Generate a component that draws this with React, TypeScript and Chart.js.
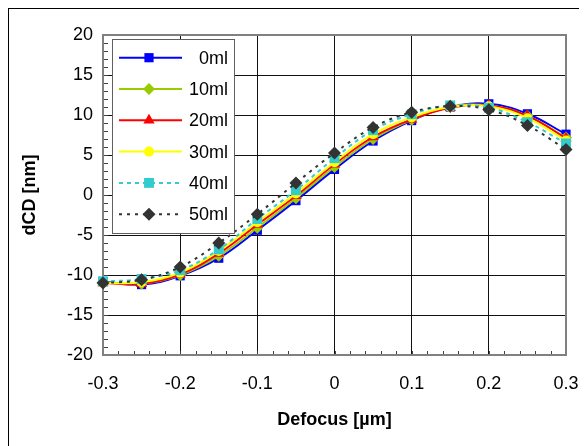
import React, { useEffect, useRef } from 'react';
import { Chart, registerables } from 'chart.js';

Chart.register(...registerables);

const defocus = [-0.3, -0.25, -0.2, -0.15, -0.1, -0.05, 0, 0.05, 0.1, 0.15, 0.2, 0.25, 0.3];
const series0ml = [-10.8, -11.2, -10.1, -7.9, -4.4, -0.7, 3.2, 6.75, 9.3, 11.0, 11.4, 10.15, 7.6];
const series10ml = [-10.9, -11.1, -10.0, -7.6, -4.1, -0.4, 3.5, 7.0, 9.4, 11.0, 11.2, 9.9, 7.2];
const series20ml = [-11.0, -11.1, -9.9, -7.3, -3.7, -0.1, 3.85, 7.25, 9.45, 10.9, 11.2, 9.9, 7.1];
const series30ml = [-11.0, -10.9, -9.7, -7.0, -3.4, 0.2, 4.1, 7.6, 9.7, 11.0, 11.1, 9.6, 6.8];
const series40ml = [-10.8, -10.5, -9.4, -6.8, -3.0, 0.6, 4.6, 8.1, 10.1, 11.2, 10.9, 9.1, 6.45];
const series50ml = [-11.0, -10.6, -9.0, -6.0, -2.4, 1.5, 5.25, 8.45, 10.35, 11.1, 10.65, 8.7, 5.7];
const seriesNames = ['0ml', '10ml', '20ml', '30ml', '40ml', '50ml'];
const xTickValues = [-0.3, -0.2, -0.1, 0, 0.1, 0.2, 0.3];
const yTickValues = [-20, -15, -10, -5, 0, 5, 10, 15, 20];
const xTitle = 'Defocus [µm]';
const yTitle = 'dCD [nm]';

const allSeries = [series0ml, series10ml, series20ml, series30ml, series40ml, series50ml];
const styles = [
  { color: '#0000FF', point: 'rect', r: 6.5, dash: [] as number[] },
  { color: '#99CC00', point: 'rectRot', r: 6, dash: [] as number[] },
  { color: '#FF0000', point: 'triangle', r: 6.5, dash: [] as number[] },
  { color: '#FFFF00', point: 'circle', r: 5, dash: [] as number[] },
  { color: '#33CCCC', point: 'rect', r: 7, dash: [4, 4] },
  { color: '#333333', point: 'rectRot', r: 6.5, dash: [3, 5] },
];

const FONT = 'Arial, "Liberation Sans", sans-serif';

function drawMarker(ctx: CanvasRenderingContext2D, style: string, x: number, y: number, r: number, color: string) {
  ctx.fillStyle = color;
  ctx.beginPath();
  if (style === 'rect') {
    const s = r * Math.SQRT1_2;
    ctx.rect(x - s, y - s, 2 * s, 2 * s);
  } else if (style === 'rectRot') {
    ctx.moveTo(x, y - r);
    ctx.lineTo(x + r, y);
    ctx.lineTo(x, y + r);
    ctx.lineTo(x - r, y);
    ctx.closePath();
  } else if (style === 'triangle') {
    ctx.moveTo(x, y - r);
    ctx.lineTo(x + r * 0.866, y + r * 0.5);
    ctx.lineTo(x - r * 0.866, y + r * 0.5);
    ctx.closePath();
  } else {
    ctx.arc(x, y, r, 0, Math.PI * 2);
  }
  ctx.fill();
}

const decorPlugin = {
  id: 'decor',
  beforeDatasetsDraw(chart: any) {
    const { ctx, chartArea: a, scales } = chart;
    ctx.save();
    ctx.strokeStyle = '#404040';
    ctx.lineWidth = 1;
    ctx.beginPath();
    for (let v = -20; v <= 20; v += 1) {
      const y = Math.round(scales.y.getPixelForValue(v)) + 0.5;
      ctx.moveTo(a.left, y);
      ctx.lineTo(a.left + 5, y);
    }
    for (let i = 0; i <= 30; i++) {
      const v = -0.3 + i * 0.02;
      const x = Math.round(scales.x.getPixelForValue(v)) + 0.5;
      ctx.moveTo(x, a.bottom);
      ctx.lineTo(x, a.bottom - 4);
    }
    ctx.stroke();
    ctx.strokeStyle = '#808080';
    ctx.lineWidth = 2;
    ctx.strokeRect(a.left, a.top, a.right - a.left, a.bottom - a.top);
    ctx.restore();
  },
  afterDatasetsDraw(chart: any) {
    const { ctx } = chart;
    ctx.save();
    const bx = 103, by = 30, bw = 122, bh = 194;
    ctx.fillStyle = '#ffffff';
    ctx.fillRect(bx, by, bw, bh);
    ctx.strokeStyle = '#606060';
    ctx.lineWidth = 1;
    ctx.strokeRect(bx + 0.5, by + 0.5, bw, bh);
    seriesNames.forEach((name, i) => {
      const st = styles[i];
      const y = 48.7 + i * 31.3;
      ctx.strokeStyle = st.color;
      ctx.lineWidth = 2;
      ctx.setLineDash(st.dash);
      ctx.beginPath();
      ctx.moveTo(110, y);
      ctx.lineTo(173, y);
      ctx.stroke();
      ctx.setLineDash([]);
      drawMarker(ctx, st.point, 140, y, st.r, st.color);
      ctx.fillStyle = '#000';
      ctx.font = `18px ${FONT}`;
      ctx.textAlign = 'right';
      ctx.textBaseline = 'middle';
      ctx.fillText(name, 219, y + 1);
    });
    ctx.restore();
  },
};

function fmt(v: number) {
  const n = Number(v.toFixed(2));
  return String(n);
}

export default function App() {
  const ref = useRef<HTMLCanvasElement | null>(null);
  useEffect(() => {
    if (!ref.current) return;
    const datasets = allSeries.map((vals, i) => ({
      label: seriesNames[i],
      data: defocus.map((x, j) => ({ x, y: vals[j] })),
      showLine: true,
      borderColor: styles[i].color,
      backgroundColor: styles[i].color,
      pointBackgroundColor: styles[i].color,
      pointBorderColor: styles[i].color,
      pointBorderWidth: 0,
      pointStyle: styles[i].point,
      pointRadius: styles[i].r,
      borderWidth: 2,
      borderDash: styles[i].dash,
      tension: 0.4,
      clip: false,
      order: 6 - i,
    }));
    const gridColor = (c: any) => {
      const v = c.tick ? c.tick.value : null;
      const sc = c.scale;
      if (v === sc.min || v === sc.max) return 'rgba(0,0,0,0)';
      return '#111';
    };
    const chart = new Chart(ref.current, {
      type: 'scatter',
      data: { datasets: datasets as any },
      plugins: [decorPlugin as any],
      options: {
        animation: false,
        responsive: false,
        layout: { padding: { left: 0, top: 26, right: 21, bottom: 0 } },
        plugins: { legend: { display: false }, tooltip: { enabled: false } },
        scales: {
          x: {
            type: 'linear',
            min: -0.3,
            max: 0.3,
            afterBuildTicks: (s: any) => { s.ticks = xTickValues.map((v) => ({ value: v })); },
            afterFit: (s: any) => { s.height = 91; },
            ticks: {
              callback: (v: any) => fmt(Number(v)),
              font: { size: 18, family: FONT },
              color: '#000',
              padding: 0,
              maxRotation: 0,
              autoSkip: false,
            },
            grid: { color: gridColor, drawTicks: true, tickLength: 18, tickColor: 'rgba(0,0,0,0)', lineWidth: 1 },
            border: { display: false },
            title: {
              display: true,
              text: xTitle,
              font: { size: 18, weight: 'bold', family: FONT },
              color: '#000',
              padding: { top: 0, bottom: 15 },
            },
          },
          y: {
            type: 'linear',
            min: -20,
            max: 20,
            afterBuildTicks: (s: any) => { s.ticks = yTickValues.map((v) => ({ value: v })); },
            afterFit: (s: any) => { s.width = 94; },
            ticks: {
              callback: (v: any) => fmt(Number(v)),
              font: { size: 18, family: FONT },
              color: '#000',
              padding: 0,
              autoSkip: false,
            },
            grid: { color: gridColor, drawTicks: true, tickLength: 10, tickColor: 'rgba(0,0,0,0)', lineWidth: 1 },
            border: { display: false },
            title: {
              display: true,
              text: yTitle,
              font: { size: 18, weight: 'bold', family: FONT },
              color: '#000',
              padding: { top: 10, bottom: 0 },
            },
          },
        },
      } as any,
    });
    return () => chart.destroy();
  }, []);
  return (
    <div
      style={{
        width: 578,
        height: 437,
        borderTop: '1px solid #000',
        borderLeft: '1px solid #000',
        background: '#fff',
        overflow: 'hidden',
      }}
    >
      <canvas ref={ref} width={578} height={437} style={{ display: 'block' }} />
    </div>
  );
}
